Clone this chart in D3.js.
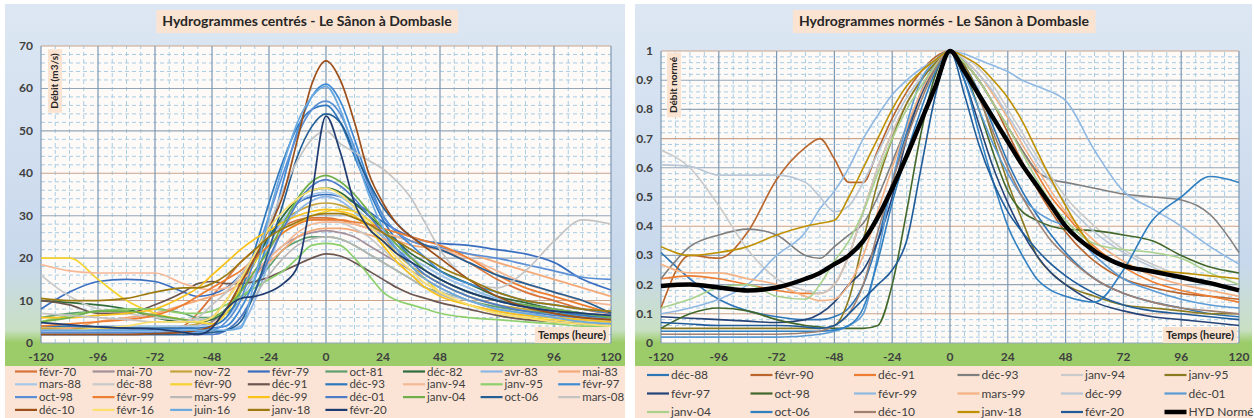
<!DOCTYPE html>
<html><head><meta charset="utf-8">
<script src="https://cdn.jsdelivr.net/npm/d3@7"></script>
<style>
body{margin:0;background:#fff;}
text{font-family:Lato,"Open Sans","DejaVu Sans",sans-serif;}
</style></head>
<body>
<svg id="chart" width="1254" height="418"></svg>
<script>
// ---------- DATA ----------
const hours = [-120,-108,-96,-84,-72,-60,-54,-48,-42,-36,-30,-24,-18,-12,-6,0,6,12,18,24,30,36,42,48,60,72,84,96,108,120];
const xTicks = [-120,-96,-72,-48,-24,0,24,48,72,96,120];
const leftYTicks = [0,10,20,30,40,50,60,70];
const rightYTicks = [0,0.1,0.2,0.3,0.4,0.5,0.6,0.7,0.8,0.9,1];

const leftNames = ["févr-70","mai-70","nov-72","févr-79","oct-81","déc-82","avr-83","mai-83",
  "mars-88","déc-88","févr-90","déc-91","déc-93","janv-94","janv-95","févr-97",
  "oct-98","févr-99","mars-99","déc-99","déc-01","janv-04","oct-06","mars-08",
  "déc-10","févr-16","juin-16","janv-18","févr-20"];
const leftColors = ["#d9733a","#a3909a","#c5a43c","#3a6fc0","#5f9e6e","#2f6b3c","#8cb6e6","#f3a978",
  "#a5c8ea","#c9c9c9","#f6d32e","#6b5650","#2e78c0","#f5b896","#8ccf6c","#3f8bd6",
  "#5a8fd5","#ed7d31","#b8b8b8","#f8c21a","#4d7cc8","#6fae48","#235e94","#c4c4c4",
  "#9c4f1a","#fbe070","#6aaae0","#9c7a10","#1f3b70"];
const leftValues = [
 [2,2,2,2,2.2,4,7,11,15,19,22,25,27.5,29,29.5,29.5,29,28,27,26,25,24,23,22,19,15,12,10,8,7],
 [3,3,3,3,3,3.5,4,5,8,12,16,20,23,25,26,26.5,26,25,23,21,19,17,15,13,10,8,7,6,5.5,5],
 [3.5,3.5,3.5,3.5,3.5,4,4.5,6,10,15,20,25,29,31,32.5,33,32.5,31,28,25,21,18,16,14,11,9,8,7,6,5.5],
 [8,12,14.5,15,14.5,12,11,11.5,13,16,20,25,29,33,34.5,35,34.5,33,31,28.5,26.5,25,24,23.5,23,22,21,19,15,12.5],
 [6,7,7.5,8,8,7,6,6,7,10,14,18,22,24,25,25,24.5,23,21,19,17,15,13,12,10,8.5,7.5,7,6.5,6],
 [10,9.5,9,8,6,5,5,5.5,8,13,19,25,30,34,36,36.5,35.5,33,30,27,24,21,19,17,14,11,9.5,8,7,6],
 [2.5,2.5,2.5,2.5,2.5,2.5,2.5,2.5,3,4,10,19,27,31,33.5,34.5,33.5,31,28,25,22,20,18,16,13,10.5,9,8,7,6.5],
 [3,3.5,5,6,7,9,10,11,12,14,16,19,22,25,26.5,27,27,26.5,25.5,24.5,24,23,22.5,22,21,19,17,15,13,11],
 [4,4,4,4,4,4,4,4.5,6,10,16,23,29,33,35,35.5,34.5,32,29,26,23,20,18,16,13,10,8.5,7.5,6.5,6],
 [16,11,8,7,6,5.5,5.5,6,8,12,17,22,26,28,29,29,28.5,27,25,22,19,16,14,12,10,8,7,6,5.5,5],
 [20,20,15,10,7,5.5,5,4.5,7,13,19,23,26,28,30,31,31.5,31,29,26,22,18,15,12,9,7,6,5.5,5,4.5],
 [10,9,7,7,9,12,14,14.5,14,14,14.5,15.5,17,18.5,20,21,20.5,19,17,15,13,11.5,10.5,9.5,8,6.5,5.5,5,4.5,4],
 [4,4,3.8,3.6,3.5,3.5,3.5,4,6,12,22,33,43,51,55,56,52,44,36,29,24,20,17,15,12,10,8.5,7.5,6.5,6],
 [18.5,17,16.5,16.5,16.5,14,13,12.5,13,15,17,20,23,26,28,28.5,28.5,28,27,26,25,24,23,22,20,17,14,12,10,9],
 [5,6.5,7.5,8,8,7,7,7.5,9,11,13,15,17,20,23,23.5,23,20,16,12,10,9,8,7,6,5.5,5,4.5,4,4],
 [3,3,3,3,3,3,3,3.5,4,8,15,25,38,50,58,61,57,48,38,30,26,23,20,17,14,12,10,9,8,7],
 [2.5,2.5,2.5,2.5,2.5,2.5,2.8,3,5,10,20,30,40,49,55,57,54,46,37,30,26,24,23,22.5,21,20,18.5,17,15.5,15],
 [4,4.5,5,5.5,6.5,9,11,13,15,17,20,23,26,28,29,29,29,28.5,28,27,26,25,24,23,20,16,13,11,9,7],
 [2,2,2,2,2,2,2,2.5,3,6,11,16,20,23,24.5,25,24.5,23,21,19,17,15,13,11.5,9,7.5,6.5,6,5.5,5],
 [6,6,6.5,7,8,11,13,16,19,22,24.5,26.5,28.5,30,31,31.5,31,30,27,23,19,16,13,11,9,7.5,6.5,6,5.5,5],
 [2,2,2,2,2,2,2,2,3,6,12,20,27,33,37,38.5,37,34,30,26,22,19,16,14,11,9,7.5,6.5,6,5.5],
 [5,6,7.5,7.5,6.5,5.5,5,6,8,12,17,22,28,34,38,39.5,38,35,31,27,23,20,17,15,12,10,9,8,7,6],
 [2,2,2,2,2,2,2.2,2.5,3,5,12,22,33,44,51,54,52,45,38,32,28,25,23,22,19,16,14,12,10,7],
 [7,6.5,6,5.5,5,5,6,9,12,16,21,28,36,43,48,50,47,45,43,41,38,34,28,22,15,13,17,24,29,28],
 [2,2,2,2,2.2,2.5,3,4,8,14,20,27,35,48,61,66.5,62,52,40,33,28,25,22.5,20,15,11,8.5,7,6,5.5],
 [3,3,3.5,4,5,5,5,6,10,15,21,27,31,34,36,36.5,35,32,28,24,20,17,14,12,9,7,6,5,4.5,4],
 [3,3,3,3,3,3,3,3,3,3.5,15,30,42,52,58,60.5,55,45,35,27,22,18,15,13,10,8,7,6,5,4.5],
 [10.5,10,10,10.5,12,13,13,14,16,19,22,25,27,28.5,30,30.5,30.5,29.5,28,26,24,22,20,18,15,12,10,9,8,7.5],
 [4.8,4.3,3.8,3.5,3.3,2.5,2,3.5,8,10.5,11,12,14,18,35,53.5,45,33,27,24,21,19,17,15,12,10,8.5,7.5,7,6.5]
];

const rightNames = ["déc-88","févr-90","déc-91","déc-93","janv-94","janv-95",
  "févr-97","oct-98","févr-99","mars-99","déc-99","déc-01",
  "janv-04","oct-06","déc-10","janv-18","févr-20","HYD Normé"];
const rightColors = ["#2e75b6","#b9652b","#ed7d31","#7f7f7f","#cacaca","#8a7a20",
  "#264478","#43682b","#8fb9e3","#f4b183","#b9c6d6","#5b9bd5",
  "#a9d18e","#2f7fc1","#a08070","#bf9000","#1f5c99","#000000"];
const rightValues = [
 [0.31,0.22,0.15,0.11,0.09,0.08,0.08,0.09,0.12,0.2,0.35,0.55,0.72,0.86,0.96,1,0.95,0.86,0.74,0.62,0.52,0.44,0.37,0.31,0.22,0.17,0.14,0.12,0.1,0.09],
 [0.12,0.3,0.29,0.38,0.56,0.67,0.7,0.63,0.55,0.55,0.66,0.77,0.86,0.93,0.98,1,0.96,0.9,0.82,0.72,0.62,0.53,0.45,0.38,0.28,0.22,0.19,0.17,0.16,0.15],
 [0.22,0.23,0.22,0.2,0.18,0.17,0.17,0.2,0.3,0.45,0.6,0.72,0.82,0.9,0.96,1,0.96,0.9,0.82,0.74,0.66,0.58,0.5,0.44,0.33,0.26,0.21,0.18,0.16,0.14],
 [0.22,0.33,0.37,0.39,0.37,0.3,0.29,0.33,0.37,0.41,0.5,0.62,0.74,0.85,0.94,1,0.96,0.9,0.82,0.74,0.66,0.59,0.56,0.55,0.53,0.51,0.5,0.49,0.44,0.31],
 [0.66,0.6,0.47,0.32,0.22,0.18,0.17,0.2,0.3,0.45,0.6,0.72,0.82,0.9,0.96,1,0.98,0.94,0.88,0.8,0.72,0.64,0.57,0.5,0.4,0.32,0.27,0.23,0.2,0.18],
 [0.05,0.05,0.05,0.05,0.05,0.05,0.05,0.06,0.15,0.35,0.55,0.7,0.82,0.9,0.96,1,0.95,0.85,0.7,0.55,0.42,0.3,0.24,0.2,0.16,0.13,0.12,0.11,0.1,0.1],
 [0.09,0.085,0.08,0.075,0.07,0.08,0.1,0.14,0.2,0.25,0.35,0.5,0.7,0.85,0.95,1,0.9,0.75,0.6,0.48,0.38,0.3,0.24,0.2,0.14,0.11,0.09,0.08,0.07,0.06],
 [0.05,0.1,0.12,0.11,0.08,0.06,0.055,0.05,0.05,0.05,0.06,0.2,0.45,0.72,0.92,1,0.93,0.8,0.65,0.52,0.45,0.42,0.4,0.39,0.385,0.37,0.35,0.3,0.26,0.24],
 [0.1,0.12,0.15,0.2,0.3,0.38,0.46,0.52,0.6,0.7,0.78,0.85,0.9,0.94,0.97,1,0.99,0.97,0.95,0.93,0.9,0.88,0.86,0.83,0.66,0.52,0.46,0.4,0.33,0.27],
 [0.27,0.24,0.24,0.22,0.2,0.16,0.145,0.15,0.2,0.3,0.45,0.6,0.74,0.86,0.95,1,0.97,0.92,0.85,0.77,0.68,0.6,0.52,0.45,0.35,0.28,0.23,0.2,0.18,0.16],
 [0.61,0.605,0.575,0.575,0.575,0.55,0.5,0.45,0.47,0.55,0.65,0.75,0.84,0.91,0.97,1,0.97,0.92,0.86,0.78,0.7,0.62,0.55,0.48,0.38,0.31,0.26,0.22,0.2,0.18],
 [0.02,0.02,0.02,0.02,0.02,0.025,0.03,0.04,0.06,0.1,0.3,0.55,0.75,0.9,0.97,1,0.92,0.8,0.68,0.58,0.5,0.45,0.42,0.4,0.3,0.22,0.18,0.15,0.13,0.12],
 [0.12,0.15,0.19,0.2,0.16,0.15,0.2,0.28,0.35,0.45,0.58,0.7,0.8,0.88,0.95,1,0.96,0.9,0.82,0.74,0.65,0.56,0.48,0.42,0.34,0.32,0.31,0.29,0.24,0.2],
 [0.04,0.04,0.04,0.04,0.04,0.04,0.04,0.045,0.06,0.12,0.28,0.48,0.65,0.8,0.93,1,0.9,0.72,0.55,0.4,0.3,0.22,0.18,0.16,0.14,0.25,0.42,0.5,0.57,0.55],
 [0.03,0.03,0.03,0.03,0.03,0.035,0.04,0.06,0.1,0.2,0.38,0.55,0.7,0.83,0.94,1,0.94,0.84,0.72,0.6,0.5,0.42,0.35,0.3,0.22,0.17,0.14,0.12,0.11,0.1],
 [0.33,0.3,0.31,0.33,0.37,0.4,0.41,0.42,0.5,0.6,0.7,0.8,0.88,0.93,0.97,1,0.98,0.95,0.9,0.84,0.76,0.66,0.56,0.47,0.32,0.27,0.25,0.24,0.23,0.22],
 [0.07,0.065,0.06,0.06,0.06,0.055,0.05,0.06,0.1,0.15,0.2,0.25,0.35,0.6,0.85,1,0.85,0.68,0.55,0.45,0.38,0.32,0.27,0.23,0.17,0.13,0.11,0.1,0.09,0.08],
 [0.195,0.2,0.19,0.18,0.19,0.22,0.24,0.27,0.3,0.35,0.43,0.53,0.64,0.76,0.88,1,0.93,0.85,0.77,0.69,0.61,0.54,0.47,0.4,0.315,0.265,0.245,0.225,0.205,0.18]
];

// ---------- DRAW ----------
const svg = d3.select("#chart");
const defs = svg.append("defs");
const grad = defs.append("linearGradient").attr("id","bg").attr("x1",0).attr("y1",0).attr("x2",0).attr("y2",1);
[[0,"#dde7f3"],[0.72,"#c8d8ec"],[0.9,"#c9e0c4"],[0.935,"#9ccc6a"],[1,"#9ccc6a"]].forEach(s=>
  grad.append("stop").attr("offset",s[0]).attr("stop-color",s[1]));

function drawPanel(cfg){
  const g = svg.append("g");
  g.append("rect").attr("x",cfg.px0).attr("y",4).attr("width",cfg.px1-cfg.px0).attr("height",362)
    .attr("fill","url(#bg)");
  g.append("rect").attr("x",cfg.px0).attr("y",366).attr("width",cfg.px1-cfg.px0).attr("height",52)
    .attr("fill","#fbe4d5");

  const x = d3.scaleLinear().domain([-120,120]).range([cfg.x0,cfg.x1]);
  const y = d3.scaleLinear().domain([0,cfg.ymax]).range([343,cfg.y1]);

  g.append("rect").attr("x",x(-120)).attr("y",y(cfg.ymax)).attr("width",x(120)-x(-120))
    .attr("height",y(0)-y(cfg.ymax)).attr("fill","#fdfaf8");

  // minor grid
  const minorX = d3.range(-120,121,6).filter(h=>h%24!==0);
  g.selectAll(null).data(minorX).enter().append("line")
    .attr("x1",d=>x(d)).attr("x2",d=>x(d)).attr("y1",y(0)).attr("y2",y(cfg.ymax))
    .attr("stroke","#a8cde4").attr("stroke-width",1).attr("stroke-dasharray","4,3");
  const nMinor = Math.round(cfg.ymax/cfg.minorStep);
  const minorY = d3.range(1,nMinor).filter(k=>k%5!==0).map(k=>k*cfg.minorStep);
  g.selectAll(null).data(minorY).enter().append("line")
    .attr("x1",x(-120)).attr("x2",x(120)).attr("y1",d=>y(d)).attr("y2",d=>y(d))
    .attr("stroke","#a8cde4").attr("stroke-width",1).attr("stroke-dasharray","4,3");
  // major grid
  g.selectAll(null).data(cfg.yTicks).enter().append("line")
    .attr("x1",x(-120)).attr("x2",x(120)).attr("y1",d=>y(d)).attr("y2",d=>y(d))
    .attr("stroke",(d,i)=> (i%3===1)?"#c9a58c":"#93a6b8").attr("stroke-width",1.1);
  g.selectAll(null).data(xTicks).enter().append("line")
    .attr("x1",d=>x(d)).attr("x2",d=>x(d)).attr("y1",y(0)).attr("y2",y(cfg.ymax))
    .attr("stroke","#7d98b2").attr("stroke-width",1.2);

  // series
  const line = d3.line().x((d,i)=>x(hours[i])).y(d=>y(d)).curve(d3.curveMonotoneX);
  cfg.values.forEach((vals,i)=>{
    g.append("path").datum(vals).attr("d",line).attr("fill","none")
      .attr("stroke",cfg.colors[i]).attr("stroke-width",cfg.widths ? cfg.widths[i] : 1.7)
      .attr("stroke-linejoin","round");
  });

  // tick labels
  g.selectAll(null).data(xTicks).enter().append("text")
    .attr("x",d=>x(d)).attr("y",361).attr("text-anchor","middle")
    .attr("font-size",12).attr("font-weight","bold").attr("fill","#404040").text(d=>d);
  g.selectAll(null).data(cfg.yTicks).enter().append("text")
    .attr("x",cfg.yLabelX).attr("y",d=>y(d)+4).attr("text-anchor","end")
    .attr("font-size",12).attr("font-weight","bold").attr("fill","#404040").text(d=>d);

  // title
  const tg = g.append("g");
  const tt = tg.append("text").attr("x",cfg.titleX).attr("y",26).attr("text-anchor","middle")
    .attr("font-size",14).attr("font-weight","bold").attr("fill","#262626").text(cfg.title);
  const tb = tt.node().getBBox();
  tg.insert("rect","text").attr("x",tb.x-6).attr("y",10).attr("width",tb.width+12).attr("height",23).attr("fill","#fbe3d2");

  // y axis title
  const yg = g.append("g");
  const yt = yg.append("text").attr("transform",`translate(${cfg.yTitleX},${cfg.yTitleY}) rotate(-90)`)
    .attr("text-anchor","middle").attr("font-size",10).attr("font-weight","bold").attr("fill","#262626").text(cfg.yTitle);
  const yb = yt.node().getBBox();
  yg.insert("rect","text").attr("x",cfg.yTitleX-10).attr("y",cfg.yTitleY-yb.width/2-4)
    .attr("width",14).attr("height",yb.width+8).attr("fill","#fbe3d2");

  // x axis title
  const xg = g.append("g");
  const xt = xg.append("text").attr("x",cfg.x1-5).attr("y",339).attr("text-anchor","end")
    .attr("font-size",11).attr("font-weight","bold").attr("fill","#262626").text("Temps (heure)");
  const xb = xt.node().getBBox();
  xg.insert("rect","text").attr("x",xb.x-3).attr("y",327).attr("width",xb.width+6).attr("height",16).attr("fill","#fbe3d2");

  // legend
  cfg.names.forEach((n,i)=>{
    const c = i % cfg.legCols, r = Math.floor(i/cfg.legCols);
    const lx = cfg.legX0 + c*cfg.legDx, ly = cfg.legY0 + r*cfg.legDy;
    g.append("line").attr("x1",lx).attr("x2",lx+22).attr("y1",ly).attr("y2",ly)
      .attr("stroke",cfg.colors[i]).attr("stroke-width",(cfg.widths && cfg.widths[i]>2)?4.5:2.2);
    g.append("text").attr("x",lx+24).attr("y",ly+4).attr("font-size",cfg.legFont).attr("fill","#404040").text(n);
  });
}

drawPanel({px0:5,px1:625,x0:41,x1:611,y1:46,ymax:70,minorStep:2,yTicks:leftYTicks,yLabelX:33,
  title:"Hydrogrammes centrés - Le Sânon à Dombasle",titleX:307,
  yTitle:"Débit (m3/s)",yTitleX:58,yTitleY:81,
  values:leftValues,colors:leftColors,names:leftNames,
  legCols:8,legX0:15,legDx:77.6,legY0:371.5,legDy:12.8,legFont:11.5});

const rightWidths = rightNames.map(n=> n==="HYD Normé"?4.5:1.6);
drawPanel({px0:635,px1:1252,x0:661,x1:1239,y1:51,ymax:1,minorStep:0.02,yTicks:rightYTicks,yLabelX:653,
  title:"Hydrogrammes normés - Le Sânon à Dombasle",titleX:944,
  yTitle:"Débit normé",yTitleX:677,yTitleY:85,
  values:rightValues,colors:rightColors,names:rightNames,widths:rightWidths,
  legCols:6,legX0:647,legDx:103.5,legY0:375,legDy:18.5,legFont:12});
</script>
</body></html>
